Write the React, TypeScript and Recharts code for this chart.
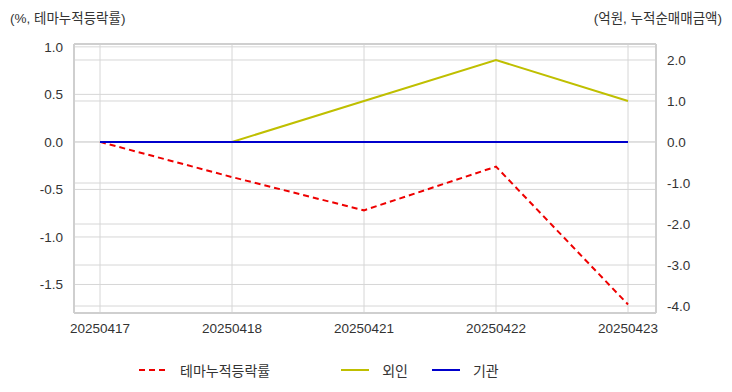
import { LineChart, Line, XAxis, YAxis, CartesianGrid, ReferenceLine } from 'recharts';

const dates = ['20250417', '20250418', '20250421', '20250422', '20250423'];
const themeReturn = [0, -0.37, -0.72, -0.26, -1.71]; // %
const foreign = [0, 0, 1.0, 2.0, 1.0]; // 억원
const institution = [0, 0, 0, 0, 0];

const leftTicks = [-1.5, -1.0, -0.5, 0, 0.5, 1.0];
const rightTicks = [-4, -3, -2, -1, 0, 1, 2];
const leftDomain = [-1.8, 1.03];
const rightDomain = [-4.17, 2.39];

const COLORS = {
  theme: '#ee0000',
  foreign: '#bfbf00',
  institution: '#0000cc',
  frame: '#cfcfcf',
  grid: '#d6d6d6',
  text: '#333333'
};

const FONT = '"Liberation Sans", Arial, "Noto Sans CJK KR", sans-serif';

const legendItems = [
  { name: '테마누적등락률', color: COLORS.theme, dashed: true },
  { name: '외인', color: COLORS.foreign, dashed: false },
  { name: '기관', color: COLORS.institution, dashed: false }
];

function ChartLegend() {
  return (
    <div
      style={{
        position: 'absolute',
        left: 139,
        top: 360,
        display: 'flex',
        fontFamily: FONT,
        fontSize: 14,
        color: COLORS.text
      }}
    >
      {legendItems.map((it, i) => (
        <div key={it.name} style={{ display: 'flex', alignItems: 'center', marginRight: i === 0 ? 71 : 24 }}>
          <svg width={28} height={4} style={{ marginRight: 13 }}>
            <line x1={0} y1={2} x2={28} y2={2} stroke={it.color} strokeWidth={2} strokeDasharray={it.dashed ? '6 4' : undefined} />
          </svg>
          <span>{it.name}</span>
        </div>
      ))}
    </div>
  );
}

export default function App() {
  const data = dates.map((d, i) => ({
    date: d,
    theme: themeReturn[i],
    foreign: foreign[i],
    institution: institution[i]
  }));

  const tickStyle = { fill: COLORS.text, fontSize: 13.5, fontFamily: FONT };
  const titleStyle = { position: 'absolute' as const, top: 7, fontSize: 13.5, color: COLORS.text, fontFamily: FONT };

  return (
    <div style={{ position: 'absolute', left: 0, top: 0, width: 732, height: 392, background: '#fff' }}>
      <div style={{ ...titleStyle, left: 10 }}>(%, 테마누적등락률)</div>
      <div style={{ ...titleStyle, right: 10 }}>(억원, 누적순매매금액)</div>
      <LineChart
        width={732}
        height={392}
        data={data}
        margin={{ top: 44, right: 0, bottom: 49, left: 0 }}
      >
        <CartesianGrid yAxisId="left" stroke={COLORS.grid} strokeWidth={1} />
        <CartesianGrid yAxisId="right" stroke={COLORS.grid} strokeWidth={1} vertical={false} />
        <XAxis
          dataKey="date"
          padding={{ left: 26, right: 28 }}
          tick={tickStyle}
          tickLine={false}
          axisLine={{ stroke: COLORS.frame, strokeWidth: 2 }}
          height={30}
          tickMargin={4}
          interval={0}
        />
        <YAxis
          yAxisId="left"
          domain={leftDomain}
          ticks={leftTicks}
          tickFormatter={(v: number) => v.toFixed(1)}
          tick={tickStyle}
          tickLine={false}
          axisLine={{ stroke: COLORS.frame, strokeWidth: 2 }}
          width={74}
          tickMargin={5}
          allowDataOverflow
        />
        <YAxis
          yAxisId="right"
          orientation="right"
          domain={rightDomain}
          ticks={rightTicks}
          tickFormatter={(v: number) => v.toFixed(1)}
          tick={{ ...tickStyle, textAnchor: 'start' }}
          tickLine={false}
          axisLine={{ stroke: COLORS.frame, strokeWidth: 2 }}
          width={76}
          tickMargin={5}
          allowDataOverflow
        />
        {/* top edge of the frame */}
        <ReferenceLine yAxisId="left" y={leftDomain[1]} stroke={COLORS.frame} strokeWidth={2} ifOverflow="visible" />
        <Line
          yAxisId="left"
          dataKey="theme"
          name="테마누적등락률"
          stroke={COLORS.theme}
          strokeWidth={2}
          strokeDasharray="6 4"
          dot={false}
          type="linear"
          isAnimationActive={false}
        />
        <Line
          yAxisId="right"
          dataKey="foreign"
          name="외인"
          stroke={COLORS.foreign}
          strokeWidth={2}
          dot={false}
          type="linear"
          isAnimationActive={false}
        />
        <Line
          yAxisId="right"
          dataKey="institution"
          name="기관"
          stroke={COLORS.institution}
          strokeWidth={2}
          dot={false}
          type="linear"
          isAnimationActive={false}
        />
      </LineChart>
      <ChartLegend />
    </div>
  );
}
